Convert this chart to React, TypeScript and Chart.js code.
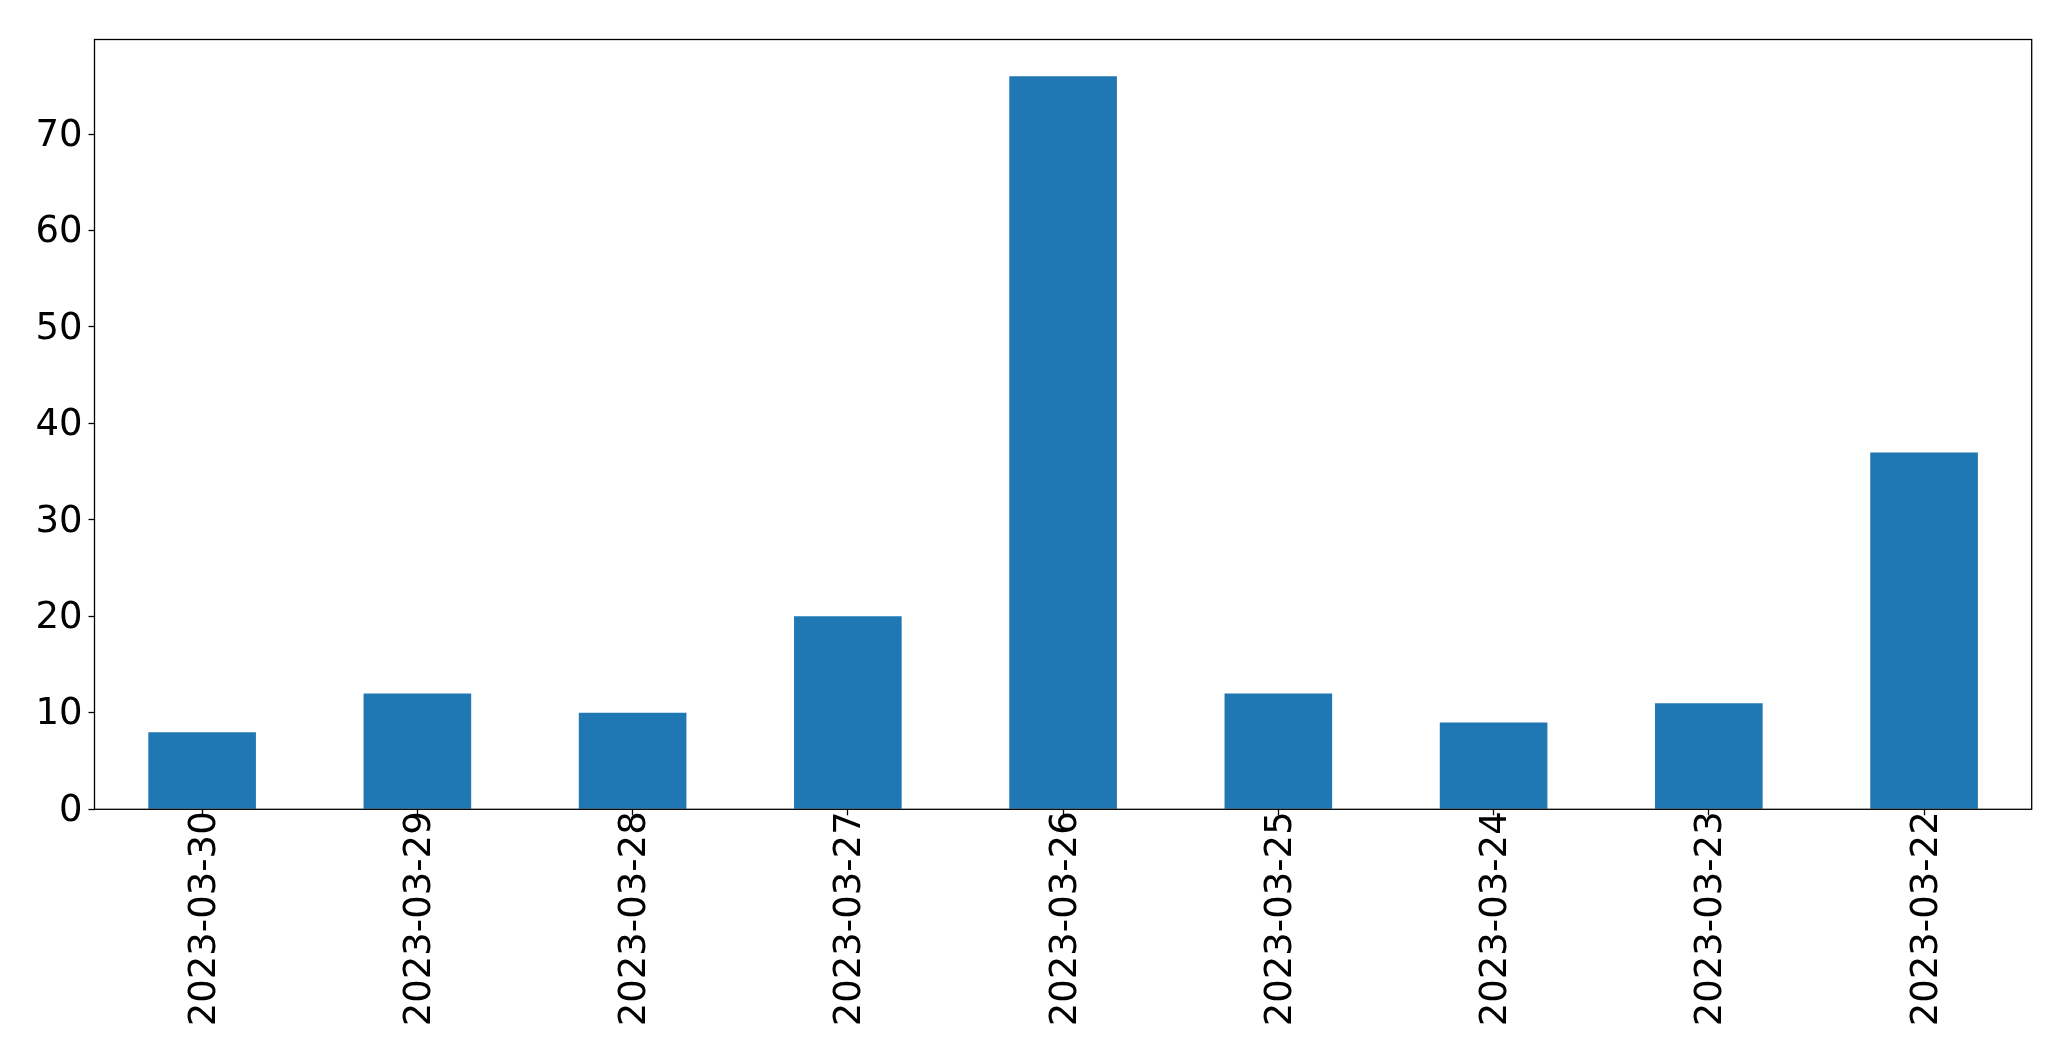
import React, { useEffect, useRef } from "react";
import { Chart, registerables } from "chart.js";

Chart.register(...registerables);

const categories = [
  "2023-03-30",
  "2023-03-29",
  "2023-03-28",
  "2023-03-27",
  "2023-03-26",
  "2023-03-25",
  "2023-03-24",
  "2023-03-23",
  "2023-03-22",
];
const values = [8, 12, 10, 20, 76, 12, 9, 11, 37];
const yMax = 79.8;
const yTicks = [0, 10, 20, 30, 40, 50, 60, 70];

const W = 2071;
const H = 1061;
const PLOT_LEFT = 94.5;
const PLOT_RIGHT = 2031.7;
const PLOT_TOP = 39.5;
const PLOT_BOTTOM = 809.3;

const FONT = { family: "'DejaVu Sans', sans-serif", size: 37 };

const framePlugin = {
  id: "frame",
  afterDatasetsDraw(chart: any) {
    const { ctx, chartArea } = chart;
    ctx.save();
    ctx.strokeStyle = "#000";
    ctx.lineWidth = 1.3;
    ctx.strokeRect(
      chartArea.left,
      chartArea.top,
      chartArea.right - chartArea.left,
      chartArea.bottom - chartArea.top
    );
    ctx.restore();
  },
};

export default function App() {
  const ref = useRef<HTMLCanvasElement | null>(null);

  useEffect(() => {
    if (!ref.current) return;
    const chart = new Chart(ref.current, {
      type: "bar",
      data: {
        labels: categories,
        datasets: [
          {
            data: values,
            backgroundColor: "#1f77b4",
            borderWidth: 0,
            barPercentage: 0.5,
            categoryPercentage: 1,
          },
        ],
      },
      options: {
        animation: false,
        responsive: false,
        devicePixelRatio: 1,
        layout: {
          padding: {
            left: 0,
            top: PLOT_TOP,
            right: W - PLOT_RIGHT,
            bottom: 0,
          },
        },
        plugins: {
          legend: { display: false },
          tooltip: { enabled: false },
        },
        scales: {
          x: {
            offset: true,
            grid: {
              display: true,
              offset: false,
              drawOnChartArea: false,
              drawTicks: true,
              tickLength: 6,
              tickColor: "#000",
              tickWidth: 1.3,
            },
            border: { display: false },
            ticks: {
              color: "#000",
              font: FONT,
              minRotation: 90,
              maxRotation: 90,
              autoSkip: false,
              padding: -4,
              labelOffset: 3,
            },
            afterFit(scale: any) {
              scale.height = H - PLOT_BOTTOM;
            },
          },
          y: {
            min: 0,
            max: yMax,
            grid: {
              display: true,
              drawOnChartArea: false,
              drawTicks: true,
              tickLength: 6,
              tickColor: "#000",
              tickWidth: 1.3,
            },
            border: { display: false },
            ticks: {
              color: "#000",
              font: FONT,
              padding: 6,
              labelOffset: 2,
            },
            afterBuildTicks(scale: any) {
              scale.ticks = yTicks.map((v) => ({ value: v }));
            },
            afterFit(scale: any) {
              scale.width = PLOT_LEFT;
            },
          },
        },
      },
      plugins: [framePlugin],
    });
    return () => chart.destroy();
  }, []);

  return (
    <div style={{ position: "fixed", left: 0, top: 0, width: W, height: H, background: "#fff" }}>
      <canvas ref={ref} width={W} height={H} style={{ width: W, height: H, display: "block" }} />
    </div>
  );
}
